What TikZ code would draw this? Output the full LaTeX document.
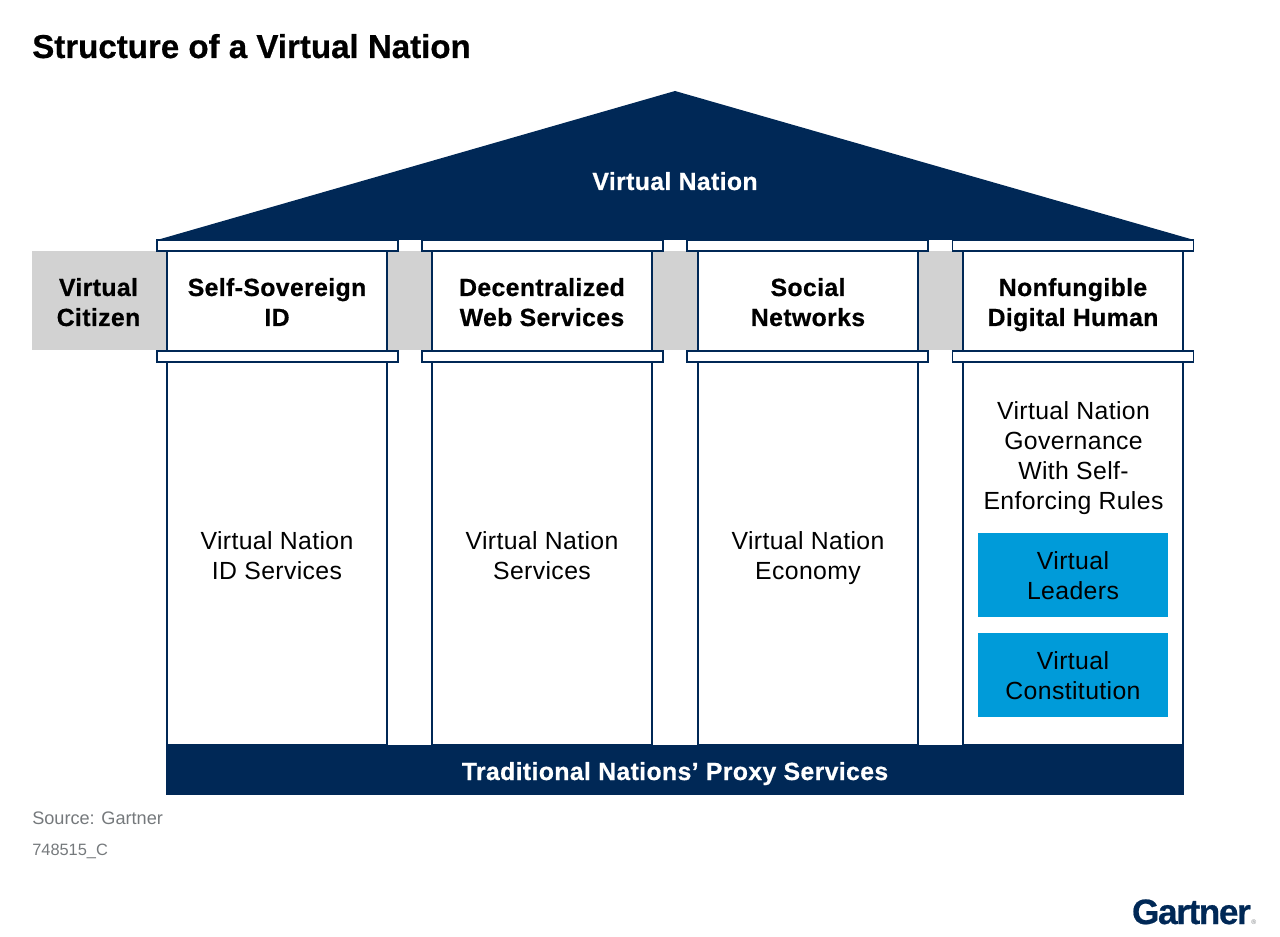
\documentclass[tikz,border=0pt]{standalone}
\usepackage{fontspec}
\setmainfont{Liberation Sans}[BoldFeatures={FakeBold=0.6}]
\definecolor{navy}{HTML}{002856}
\definecolor{band}{HTML}{D2D2D2}
\definecolor{sky}{HTML}{009BD9}
\definecolor{note}{HTML}{75797C}
\newcommand{\bodyfont}{\fontsize{18.6}{22.5}\selectfont\addfontfeature{LetterSpace=1.5}}
\tikzset{
  lines/.style={inner sep=0pt,align=center,font=\bodyfont},
  lift/.style={execute at begin node={\rule[-4pt]{0pt}{#1}}},
  top/.style={lines,lift=45.5pt,draw=navy,line width=1pt,fill=white,minimum width=165pt,minimum height=75pt,font=\bodyfont\bfseries},
  shaft/.style={lines,lift=47pt,draw=navy,line width=1pt,fill=white,minimum width=165pt,minimum height=287.25pt},
  capital/.style={draw=navy,line width=1pt,fill=white,minimum width=180.75pt,minimum height=8.25pt,inner sep=0pt},
  leaf/.style={lines,lift=44pt,fill=sky,minimum width=142.5pt,minimum height=63pt},
  footing/.style={lines,lift=23pt,fill=navy,text=white,minimum width=763.5pt,minimum height=37.5pt,font=\bodyfont\bfseries}
}
\begin{document}
\begin{tikzpicture}[x=0.75pt,y=-0.75pt]
\useasboundingbox (0,0) rectangle (1280,937);
\node[anchor=base west,inner sep=0pt,font=\fontsize{24.8}{28}\selectfont\bfseries] (title) at (32,58) {Structure of a Virtual Nation};
% grey band behind the pillars
\fill[band] (32,251) rectangle (963,350);
\node[lines,lift=45.5pt,font=\bodyfont\bfseries] (citizen) at (98.5,301) {Virtual\\Citizen};
% roof
\fill[navy] (157,240) -- (675,91) -- (1194,240) -- cycle;
\node[lines,lift=26pt,text=white,font=\bodyfont\bfseries] (nation) at (675,178) {Virtual Nation};
% pillars
\node[shaft] (shafta) at (277,553.5) {Virtual Nation\\ID Services};
\node[shaft] (shaftb) at (542,553.5) {Virtual Nation\\Services};
\node[shaft] (shaftc) at (808,553.5) {Virtual Nation\\Economy};
\node[shaft] (shaftd) at (1073,553.5) {};
\node[top] (topa) at (277,301) {Self-Sovereign\\ID};
\node[top] (topb) at (542,301) {Decentralized\\Web Services};
\node[top] (topc) at (808,301) {Social\\Networks};
\node[top] (topd) at (1073,301) {Nonfungible\\Digital Human};
\foreach \x/\n in {277.5/a,542.5/b,807.5/c,1073/d}{
  \node[capital] (upper\n) at (\x,245.5) {};
  \node[capital] (lower\n) at (\x,356.5) {};
}
\node[lines] (rules) at (1073.5,458) {Virtual Nation\\Governance\\With Self-\\Enforcing Rules};
\node[leaf] (leaders) at (1073,575) {Virtual\\Leaders};
\node[leaf] (constitution) at (1073,675) {Virtual\\Constitution};
% base
\node[footing] (base) at (675,770) {Traditional Nations’ Proxy Services};
\node[anchor=base west,inner sep=0pt,text=note,font=\fontsize{13.6}{16}\selectfont] (source) at (32,824) {Source: Gartner};
\node[anchor=base west,inner sep=0pt,text=note,font=\fontsize{12.3}{16}\selectfont] (code) at (32,855) {748515\_C};
\node[anchor=base east,inner sep=0pt,text=navy,font=\fontsize{26.4}{30}\selectfont\addfontfeature{LetterSpace=-4}\bfseries] (logo) at (1251,924) {Gartner};
\node[anchor=base west,inner sep=0pt,text=note,font=\fontsize{5}{6}\selectfont] (mark) at (1251,924) {®};
\end{tikzpicture}
\end{document}
